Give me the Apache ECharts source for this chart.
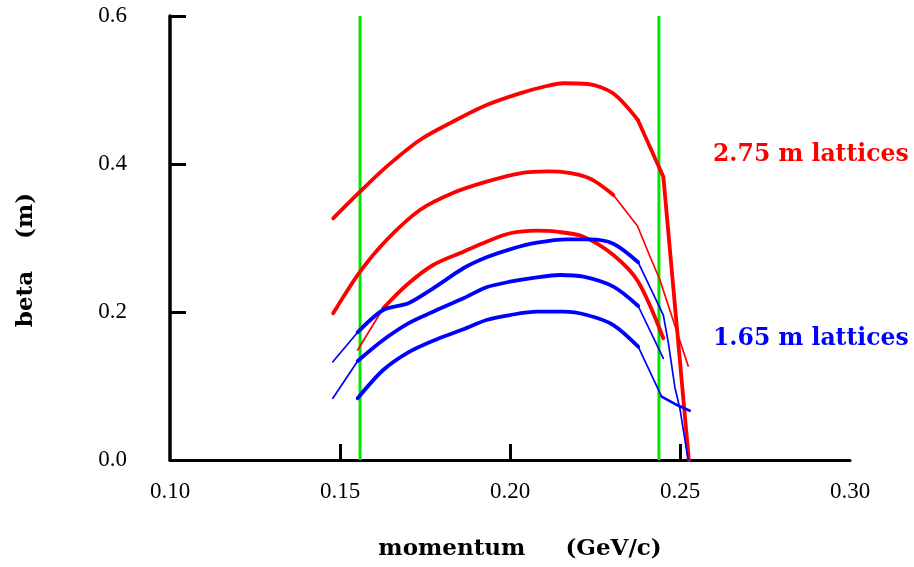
<!DOCTYPE html>
<html>
<head>
<meta charset="utf-8">
<script src="https://cdn.jsdelivr.net/npm/echarts@6/dist/echarts.min.js"></script>
<style>
  html, body { margin: 0; padding: 0; background: #fff; }
  #chart { width: 914px; height: 567px; }
</style>
</head>
<body>
<div id="chart"></div>
<script>
// Beta function vs. momentum, [momentum (GeV/c), beta (m)]
// 2.75 m lattices
var red1 = [[0.1480,0.3266],[0.1559,0.3626],[0.1637,0.3964],[0.1735,0.4324],[0.1832,0.4572],
  [0.1931,0.4797],[0.2029,0.4955],[0.2108,0.5054],[0.2156,0.5091],[0.2229,0.5081],
  [0.2303,0.4955],[0.2376,0.4595]];
var red1Tail = [[0.2376,0.4595],[0.2451,0.3828],[0.2526,0.0]];
var red2 = [[0.1480,0.1982],[0.1559,0.2545],[0.1637,0.2973],[0.1735,0.3378],[0.1832,0.3608],
  [0.1931,0.3761],[0.2029,0.3874],[0.2112,0.3899],[0.2226,0.3820],[0.2304,0.3581]];
var red2Tail = [[0.2304,0.3581],[0.2375,0.3162],[0.2412,0.2747],[0.2441,0.2432],[0.2524,0.1270]];
var red3Head = [[0.1552,0.1486],[0.1627,0.2050]];
var red3 = [[0.1627,0.2050],[0.1696,0.2365],[0.1774,0.2635],[0.1863,0.2815],[0.1931,0.2950],
  [0.2000,0.3064],[0.2079,0.3099],[0.2137,0.3085],[0.2216,0.3018],[0.2304,0.2770],
  [0.2377,0.2409],[0.2451,0.1645]];

// 1.65 m lattices
var blue1Head = [[0.1479,0.1328],[0.1552,0.1726]];
var blue1 = [[0.1552,0.1726],[0.1627,0.2027],[0.1701,0.2118],[0.1774,0.2320],[0.1863,0.2591],
  [0.1931,0.2739],[0.2000,0.2847],[0.2079,0.2936],[0.2167,0.2982],[0.2235,0.2982],
  [0.2304,0.2923],[0.2377,0.2672]];
var blue1Tail = [[0.2377,0.2672],[0.2451,0.1959],[0.2466,0.1577],[0.2485,0.0980],[0.2500,0.0689],[0.2524,0.0]];
var blue2Head = [[0.1479,0.0834],[0.1552,0.1338]];
var blue2 = [[0.1552,0.1338],[0.1627,0.1622],[0.1701,0.1847],[0.1774,0.2004],[0.1863,0.2185],
  [0.1931,0.2334],[0.2000,0.2409],[0.2079,0.2469],[0.2147,0.2500],[0.2216,0.2477],
  [0.2304,0.2342],[0.2377,0.2081]];
var blue2Tail = [[0.2377,0.2081],[0.2451,0.1374]];
var blue3 = [[0.1552,0.0834],[0.1627,0.1216],[0.1701,0.1455],[0.1774,0.1612],[0.1863,0.1766],
  [0.1931,0.1892],[0.2000,0.1959],[0.2079,0.2004],[0.2157,0.2004],[0.2226,0.1959],
  [0.2304,0.1824],[0.2377,0.1531]];
var blue3Tail = [[0.2377,0.1531],[0.2446,0.0855]];
var blue3End = [[0.2446,0.0855],[0.2485,0.0757],[0.2529,0.0666]];

// Momentum acceptance limits (vertical lines over the full beta range)
var limitMomenta = [0.1559, 0.2438];
var betaRange = [0, 0.6];

var xTickValues = [0.15, 0.20, 0.25];

var RED = '#ff0000', BLUE = '#0000ff', GREEN = '#00e600';
var THICK = 3.8, THIN = 1.7;

function curve(data, color, width, smooth) {
  return {
    type: 'line', data: data, symbol: 'none', silent: true,
    smooth: smooth ? 0.3 : false,
    lineStyle: { color: color, width: width, join: 'round', cap: 'round' },
    z: 3
  };
}

var series = limitMomenta.map(function (p) {
  return {
    type: 'line', symbol: 'none', silent: true, z: 2,
    data: betaRange.map(function (b) { return [p, b]; }),
    lineStyle: { color: GREEN, width: 3 }
  };
});
series = series.concat([
  curve(red1, RED, THICK, true), curve(red1Tail, RED, THICK, false),
  curve(red2, RED, THICK, true), curve(red2Tail, RED, THIN, false),
  curve(red3Head, RED, THIN, false), curve(red3, RED, THICK, true),
  curve(blue1Head, BLUE, THIN, false), curve(blue1, BLUE, THICK, true), curve(blue1Tail, BLUE, THIN, false),
  curve(blue2Head, BLUE, THIN, false), curve(blue2, BLUE, THICK, true), curve(blue2Tail, BLUE, THIN, false),
  curve(blue3, BLUE, THICK, true), curve(blue3Tail, BLUE, THIN, false), curve(blue3End, BLUE, 2.6, false)
]);

var serif = '"Liberation Serif", "Times New Roman", serif';
var boldSerif = '"DejaVu Serif", serif';

var chart = echarts.init(document.getElementById('chart'), null, { renderer: 'canvas' });
chart.setOption({
  animation: false,
  backgroundColor: '#ffffff',
  grid: { left: 170, right: 64, top: 16, bottom: 107, containLabel: false, outerBoundsMode: 'none' },
  xAxis: {
    type: 'value', min: 0.10, max: 0.30, interval: 0.05,
    name: 'momentum     (GeV/c)', nameLocation: 'middle', nameGap: 78,
    nameTextStyle: { fontFamily: boldSerif, fontWeight: 'bold', fontSize: 23, color: '#000',
      padding: [0, 0, 0, 20] },
    axisLine: { lineStyle: { color: '#000', width: 3 } },
    axisTick: { show: true, inside: true, length: 16, customValues: xTickValues,
      lineStyle: { color: '#000', width: 3 } },
    axisLabel: { margin: 20, fontFamily: serif, fontSize: 23, color: '#000',
      formatter: function (v) { return v.toFixed(2); } },
    splitLine: { show: false }
  },
  yAxis: {
    type: 'value', min: 0, max: 0.6, interval: 0.2,
    name: 'beta    (m)', nameLocation: 'middle', nameGap: 132, nameRotate: 90,
    nameTextStyle: { fontFamily: boldSerif, fontWeight: 'bold', fontSize: 23, color: '#000',
      padding: [0, 44, 0, 0] },
    axisLine: { lineStyle: { color: '#000', width: 3.5 } },
    axisTick: { show: true, inside: true, length: 16, lineStyle: { color: '#000', width: 3 } },
    axisLabel: { margin: 43, fontFamily: serif, fontSize: 23, color: '#000',
      formatter: function (v) { return v.toFixed(1); } },
    splitLine: { show: false }
  },
  graphic: [
    { type: 'text', left: 713, top: 143, silent: true,
      style: { text: '2.75 m lattices', fill: RED, font: 'bold 23.5px ' + boldSerif } },
    { type: 'text', left: 713, top: 327, silent: true,
      style: { text: '1.65 m lattices', fill: BLUE, font: 'bold 23.5px ' + boldSerif } }
  ],
  series: series
});
</script>
</body>
</html>
